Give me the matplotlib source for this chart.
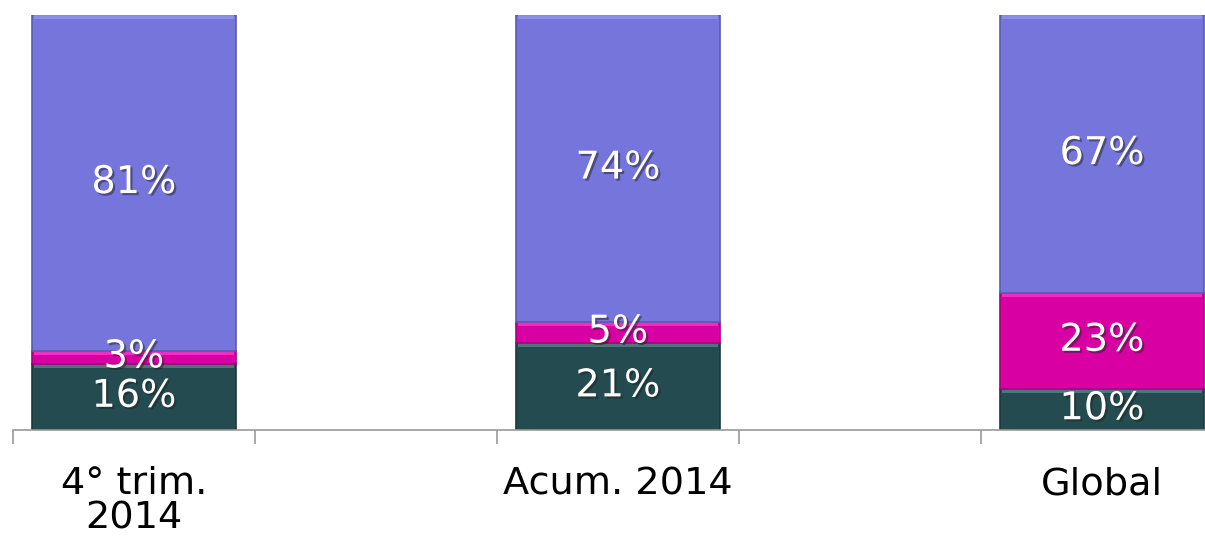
import numpy as np
import matplotlib
matplotlib.use("Agg")
import matplotlib.pyplot as plt
import matplotlib.patheffects as pe

# data
categories = ["4° trim.\n2014", "Acum. 2014", "Global"]
slots = [0, 2, 4]  # empty slots between the bars
bottom_vals = [16, 21, 10]
middle_vals = [3, 5, 23]
top_vals = [81, 74, 67]

colors = ["#244C50", "#D900A3", "#7575DB"]
edges = ["#1A3A3D", "#A8007E", "#5B5BB0"]
bevel = ["#5E8A8A", "#FF40D0", "#9A9AF0"]

fig = plt.figure(figsize=(12.05, 5.38), dpi=100)
ax = fig.add_axes([13 / 1205, 108 / 538, 1210 / 1205, 415 / 538])

x = np.array(slots, dtype=float)
width = 0.843
shadow = [pe.SimplePatchShadow(offset=(1.5, -1.5), alpha=0.5, shadow_rgbFace="#222222"), pe.Normal()]

base = np.zeros(len(x))
for vals, c, ec, bv in zip([bottom_vals, middle_vals, top_vals], colors, edges, bevel):
    vals = np.array(vals, dtype=float)
    ax.bar(x, vals, width, bottom=base, color=c, edgecolor=ec, linewidth=1.2)
    # light strip along the top of each segment (bevel look)
    ax.bar(x, np.minimum(vals, 1.0), width * 0.985, bottom=base + vals - np.minimum(vals, 1.0),
           color=bv, alpha=0.7, linewidth=0)
    for xi, b, v in zip(x, base, vals):
        ax.text(xi, b + v / 2, f"{int(v)}%", ha="center", va="center",
                fontsize=27.5, color="white", path_effects=shadow, zorder=5)
    base = base + vals

ax.set_xlim(-0.5, 4.5)
ax.set_ylim(0, 100)

ax.set_xticks(x)
ax.set_xticklabels(categories, fontsize=27.5, linespacing=0.95, va="top")
ax.tick_params(axis="x", which="major", length=0, pad=26)
ax.set_xticks(np.arange(-0.5, 5, 1), minor=True)
ax.tick_params(axis="x", which="minor", length=10, width=1.2, color="#9A9A9A")
ax.set_yticks([])

for s in ["top", "right", "left"]:
    ax.spines[s].set_visible(False)
ax.spines["bottom"].set_color("#9A9A9A")
ax.spines["bottom"].set_linewidth(1.2)

fig.savefig("out.png", dpi=100)
